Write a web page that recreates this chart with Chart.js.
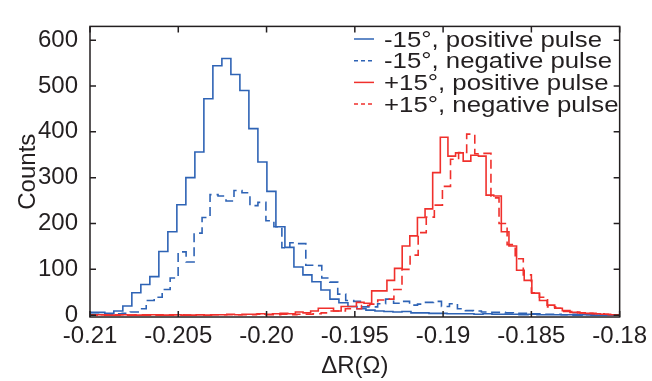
<!DOCTYPE html>
<html>
<head>
<meta charset="utf-8">
<script src="https://cdn.jsdelivr.net/npm/chart.js@4.4.1/dist/chart.umd.min.js"></script>
<style>
  html, body { margin: 0; padding: 0; background: #fff; }
</style>
</head>
<body>
<canvas id="chart" width="652" height="381"></canvas>
<script>
const xTicks = [-0.21, -0.205, -0.2, -0.195, -0.19, -0.185, -0.18];
const xTickLabels = ["-0.21", "-0.205", "-0.20", "-0.195", "-0.19", "-0.185", "-0.18"];
const yTicks = [0, 100, 200, 300, 400, 500, 600];

const seriesNames = [
  "-15°, positive pulse",
  "-15°, negative pulse",
  "+15°, positive pulse",
  "+15°, negative pulse",
];

// each run was binned on its own: first left edge and bin width, in ohms
const binStart = [-0.21018, -0.20998, -0.21003, -0.21019];
const binWidth = [0.000510, 0.000452, 0.000432, 0.000458];

const countsM15Pos = [
  6, 6, 4, 9, 20, 49, 67, 84, 139, 182,
  241, 300, 356, 472, 544, 560, 525, 490, 407, 334,
  270, 193, 148, 105, 88, 73, 55, 35, 27, 19,
  14, 11, 9, 8, 7, 8, 5, 5, 4, 4,
  3, 3, 3, 2, 3, 2, 2, 2, 1, 2,
  1, 1, 1, 1, 0, 1, 0, 0, 0,
];
const countsM15Neg = [
  2, 2, 2, 3, 4,
  7, 14, 32, 39, 56, 81,
  138, 116, 179, 213, 263, 260, 249, 272, 267, 239,
  246, 206, 193, 147, 158, 156, 109, 108, 81, 72, 46,
  32, 30, 18, 18, 25, 35, 26, 30, 22, 24,
  28, 30, 19, 25, 14, 10, 9, 7, 6, 6,
  5, 4, 4, 3, 3, 2, 2, 1, 2, 1,
  1, 1, 0, 0, 0,
];
const countsP15Pos = [
  0, 1, 0, 0, 1, 0, 0, 0, 1, 0, 0, 1, 0, 0, 1, 0,
  1, 1, 2, 1, 2, 2, 3, 2, 3, 4, 3,
  7, 5, 9, 15, 15, 9, 19, 19, 28, 26, 53, 53, 76,
  102, 151, 173, 213, 232, 311, 388, 347, 354, 336, 349, 347,
  262, 260, 182, 151, 98, 76, 48, 32, 22, 15, 10,
  6, 5, 4, 3, 2, 1, 1,
];
const countsP15Neg = [
  1, 1, 1, 1, 1, 0, 1, 1, 0, 1, 1, 1, 0, 1, 1, 1, 1, 1, 1, 1, 1, 2, 1, 1, 2,
  1, 2, 2, 3, 5, 9, 9, 14, 14, 21, 24, 33, 35,
  56, 100, 131, 180, 214, 240, 281, 340, 355, 395, 352, 353,
  256, 200, 154, 123, 88, 49, 39, 18, 15, 8, 7, 5, 4, 3, 2, 1,
];

const ink = "#231f20";
const blue = "#2e63b5";
const red = "#f0302c";
const TICK = 6;
const FONT = '"Liberation Sans", Arial, sans-serif';

// step outline: one point per left bin edge, plus the closing right edge
function stairs(start, width, counts) {
  const pts = counts.map((c, i) => ({ x: start + i * width, y: c }));
  pts.push({ x: start + counts.length * width, y: counts.at(-1) });
  return pts;
}

const runs = [
  { counts: countsM15Pos, color: blue, dash: [] },
  { counts: countsM15Neg, color: blue, dash: [9, 5] },
  { counts: countsP15Pos, color: red, dash: [] },
  { counts: countsP15Neg, color: red, dash: [9, 5] },
];

const frame = {
  id: "frame",
  afterDatasetsDraw(chart) {
    const { ctx, chartArea: a, scales } = chart;
    ctx.save();
    ctx.strokeStyle = ink;
    ctx.lineWidth = 1.5;
    ctx.strokeRect(a.left, a.top, a.right - a.left, a.bottom - a.top);
    ctx.beginPath();
    for (const t of scales.x.ticks) {
      const px = scales.x.getPixelForValue(t.value);
      ctx.moveTo(px, a.bottom); ctx.lineTo(px, a.bottom - TICK);
      ctx.moveTo(px, a.top); ctx.lineTo(px, a.top + TICK);
    }
    for (const t of scales.y.ticks) {
      const py = scales.y.getPixelForValue(t.value);
      ctx.moveTo(a.left, py); ctx.lineTo(a.left + TICK, py);
      ctx.moveTo(a.right, py); ctx.lineTo(a.right - TICK, py);
    }
    ctx.stroke();

    // legend, top right inside the axes; the source text is drawn wide
    ctx.font = "22px " + FONT;
    const stretch = 218 / ctx.measureText(seriesNames[0]).width;
    runs.forEach((r, i) => {
      const base = 46.5 + i * 21.7;
      const mid = base - 7.5;
      ctx.strokeStyle = r.color;
      ctx.lineWidth = 1.5;
      ctx.setLineDash(r.dash.length ? [4, 3] : []);
      ctx.beginPath();
      ctx.moveTo(354, mid);
      ctx.lineTo(374, mid);
      ctx.stroke();
      ctx.setLineDash([]);
      ctx.save();
      ctx.translate(384, base);
      ctx.scale(stretch, 1);
      ctx.fillStyle = ink;
      ctx.textBaseline = "alphabetic";
      ctx.fillText(seriesNames[i], 0, 0);
      ctx.restore();
    });
    ctx.restore();
  },
};

new Chart(document.getElementById("chart"), {
  type: "line",
  data: {
    datasets: runs.map((r, i) => ({
      label: seriesNames[i],
      data: stairs(binStart[i], binWidth[i], r.counts),
      borderColor: r.color,
      borderWidth: 1.6,
      borderDash: r.dash,
      stepped: true,
      pointRadius: 0,
      fill: false,
      clip: 0,
      order: 4 - i,
    })),
  },
  options: {
    responsive: false,
    animation: false,
    devicePixelRatio: 1,
    layout: { padding: { left: 0, right: 24, top: 16, bottom: 0 } },
    plugins: { legend: { display: false }, tooltip: { enabled: false } },
    scales: {
      x: {
        type: "linear",
        min: -0.21,
        max: -0.18,
        grid: { display: false, drawTicks: false },
        border: { display: false },
        afterBuildTicks: (s) => { s.ticks = xTicks.map((v) => ({ value: v })); },
        afterFit: (s) => { s.height = 64; },
        ticks: {
          color: ink,
          padding: 5,
          maxRotation: 0,
          font: { family: FONT, size: 24 },
          callback: (v) => xTickLabels[xTicks.findIndex((t) => Math.abs(t - v) < 1e-9)],
        },
        title: {
          display: true,
          text: "ΔR(Ω)",
          color: ink,
          padding: { top: 18, bottom: 0 },
          font: { family: FONT, size: 24 },
        },
      },
      y: {
        min: -4,
        max: 630,
        grid: { display: false, drawTicks: false },
        border: { display: false },
        afterBuildTicks: (s) => { s.ticks = yTicks.map((v) => ({ value: v })); },
        afterFit: (s) => { s.width = 90; },
        ticks: {
          color: ink,
          padding: 12,
          font: { family: FONT, size: 24 },
        },
        title: {
          display: true,
          text: "Counts",
          color: ink,
          padding: { top: 14, bottom: 0 },
          font: { family: FONT, size: 24 },
        },
      },
    },
  },
  plugins: [frame],
});
</script>
</body>
</html>
